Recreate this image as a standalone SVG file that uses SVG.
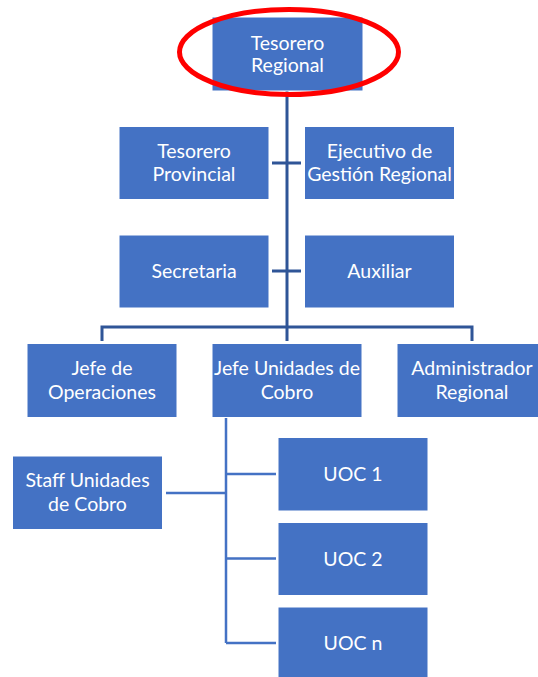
<svg xmlns="http://www.w3.org/2000/svg" width="538" height="677" viewBox="0 0 538 677">
<style>
.box{fill:#4472C4;stroke:#ffffff;stroke-width:1}
.t{fill:#ffffff;font-family:Lato,"Open Sans","Liberation Sans",sans-serif;font-size:19.5px;text-anchor:middle}
.c1{fill:none;stroke:#2F5597;stroke-width:3}
.c2{fill:none;stroke:#4472C4;stroke-width:2.5}
</style>
<rect width="538" height="677" fill="#ffffff"/>
<g id="connectors">
<path class="c1" d="M287 91 V327"/>
<path class="c1" d="M272 163 H301 M272 271 H301"/>
<path class="c1" d="M102 341 V327 H472 V341 M287 327 V341"/>
<path class="c2" d="M226 417 V643 M226 474 H276 M226 558.5 H276 M226 643 H276 M166 493 H226"/>
</g>
<g id="tesorero-regional">
<rect class="box" x="212" y="17" width="151" height="74"/>
<text class="t" x="287.5" y="49.5">Tesorero</text>
<text class="t" x="287.5" y="72">Regional</text>
</g>
<g id="tesorero-provincial">
<rect class="box" x="119" y="126.5" width="150" height="73"/>
<text class="t" x="194" y="157.5">Tesorero</text>
<text class="t" x="194" y="180.5">Provincial</text>
</g>
<g id="ejecutivo">
<rect class="box" x="304.5" y="126.5" width="150" height="73"/>
<text class="t" x="379.5" y="157.5">Ejecutivo de</text>
<text class="t" x="379.5" y="180.5">Gestión Regional</text>
</g>
<g id="secretaria">
<rect class="box" x="119" y="235" width="150" height="73"/>
<text class="t" x="194" y="278">Secretaria</text>
</g>
<g id="auxiliar">
<rect class="box" x="304.5" y="235" width="150" height="73"/>
<text class="t" x="379.5" y="278">Auxiliar</text>
</g>
<g id="jefe-operaciones">
<rect class="box" x="27" y="343.5" width="150" height="74"/>
<text class="t" x="102" y="375">Jefe de</text>
<text class="t" x="102" y="398.5">Operaciones</text>
</g>
<g id="jefe-unidades">
<rect class="box" x="212" y="343.5" width="150" height="74"/>
<text class="t" x="287" y="375">Jefe Unidades de</text>
<text class="t" x="287" y="398.5">Cobro</text>
</g>
<g id="administrador">
<rect class="box" x="397" y="343.5" width="150" height="74"/>
<text class="t" x="472" y="375">Administrador</text>
<text class="t" x="472" y="398.5">Regional</text>
</g>
<g id="staff">
<rect class="box" x="12.5" y="456" width="150" height="73.5"/>
<text class="t" x="87.5" y="487">Staff Unidades</text>
<text class="t" x="87.5" y="510.5">de Cobro</text>
</g>
<g id="uoc1">
<rect class="box" x="278" y="437.5" width="150" height="73.5"/>
<text class="t" x="353" y="481">UOC 1</text>
</g>
<g id="uoc2">
<rect class="box" x="278" y="522.5" width="150" height="73"/>
<text class="t" x="353" y="565.5">UOC 2</text>
</g>
<g id="uocn">
<rect class="box" x="278" y="607" width="150" height="73"/>
<text class="t" x="353" y="650">UOC n</text>
</g>
<g id="highlight">
<ellipse cx="289" cy="52" rx="109.5" ry="42.5" fill="none" stroke="#FF0000" stroke-width="5"/>
</g>
</svg>
